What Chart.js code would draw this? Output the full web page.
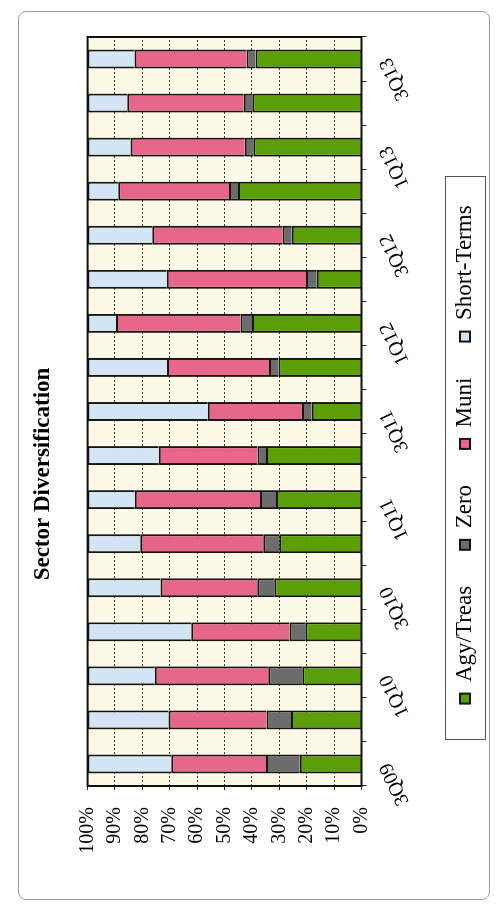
<!DOCTYPE html>
<html>
<head>
<meta charset="utf-8">
<script src="https://cdn.jsdelivr.net/npm/chart.js@4.4.1/dist/chart.umd.min.js"></script>
<style>
  html, body { margin: 0; padding: 0; background: #ffffff; }
  body { width: 500px; height: 911px; position: relative; overflow: hidden; }
  #frame {
    position: absolute; left: 18px; top: 11px; width: 472px; height: 889px;
    border: 1px solid #9c9c9c; border-radius: 8px; box-sizing: border-box;
  }
  /* the chart is laid out landscape and turned a quarter turn to stand upright */
  #wrap {
    position: absolute; left: 0; top: 0; width: 911px; height: 500px;
    transform-origin: 0 0; transform: translate(0, 911px) rotate(-90deg);
  }
  canvas { display: block; }
</style>
</head>
<body>
<div id="frame"></div>
<div id="wrap"><canvas id="chart" width="911" height="500"></canvas></div>
<script>
// quarters shown on the category axis
const quarters = ['3Q09','4Q09','1Q10','2Q10','3Q10','4Q10','1Q11','2Q11','3Q11',
                  '4Q11','1Q12','2Q12','3Q12','4Q12','1Q13','2Q13','3Q13'];
// only every other quarter carries a label
const tickLabels = ['3Q09','1Q10','3Q10','1Q11','3Q11','1Q12','3Q12','1Q13','3Q13'];

// portfolio share by sector, percent of total
const agyTreas   = [22.5, 25.7, 21.6, 20.5, 31.9, 30.0, 31.2, 34.9, 18.2, 30.3, 40.0, 16.3, 25.5, 45.1, 39.5, 39.9, 38.7];
const zero       = [12.4,  9.0, 12.4,  5.8,  6.2,  5.9,  5.9,  3.1,  3.5,  3.5,  4.2,  4.0,  3.3,  3.3,  3.1,  3.1,  3.3];
const muni       = [34.6, 35.8, 41.5, 35.9, 35.3, 44.9, 45.7, 36.0, 34.4, 37.2, 45.4, 50.8, 47.6, 40.4, 41.7, 42.5, 40.9];
const shortTerms = [30.5, 29.5, 24.5, 37.8, 26.6, 19.2, 17.2, 26.0, 43.9, 29.0, 10.4, 28.9, 23.6, 11.2, 15.7, 14.5, 17.1];

const serif = "'Liberation Serif', 'Times New Roman', serif";

// cream plot background and black frame round the plot
const plotArea = {
  id: 'plotArea',
  beforeDatasetsDraw(chart) {
    const { ctx, chartArea: a } = chart;
    ctx.save();
    ctx.globalCompositeOperation = 'destination-over';
    ctx.fillStyle = '#fcf9e7';
    ctx.fillRect(a.left, a.top, a.width, a.height);
    ctx.restore();
  },
  afterDatasetsDraw(chart) {
    const { ctx, chartArea: a } = chart;
    ctx.save();
    ctx.strokeStyle = '#111';
    ctx.lineWidth = 2;
    ctx.strokeRect(a.left, a.top, a.width, a.height);
    ctx.restore();
  }
};

// legend sits a little right of centre and is enclosed in a thin box
const legendFrame = {
  id: 'legendFrame',
  afterLayout(chart) {
    const lg = chart.legend;
    lg.left += 19.5;
    lg.right += 19.5;
  },
  afterDraw(chart) {
    const lg = chart.legend;
    if (!lg || !lg.lineWidths) return;
    const pad = lg.options.labels.padding;
    const rowW = lg.lineWidths[0];
    const start = (lg.left + pad + lg.right - rowW) / 2;
    const end = start + rowW - pad;
    const hb = lg.legendHitBoxes[0];
    const cy = hb.top + hb.height / 2;
    const x1 = start - 36, x2 = end + 29;
    const { ctx } = chart;
    ctx.save();
    ctx.strokeStyle = '#555';
    ctx.lineWidth = 1;
    ctx.strokeRect(Math.round(x1) + 0.5, Math.round(cy - 20) + 0.5, Math.round(x2 - x1), 40);
    ctx.restore();
  }
};

const barStyle = { borderColor: '#141414', borderWidth: 2, barPercentage: 0.43, categoryPercentage: 1 };

new Chart(document.getElementById('chart'), {
  type: 'bar',
  data: {
    labels: quarters,
    datasets: [
      { label: 'Agy/Treas',   data: agyTreas,   backgroundColor: '#5c9e08', ...barStyle },
      { label: 'Zero',        data: zero,       backgroundColor: '#6c6c6c', ...barStyle },
      { label: 'Muni',        data: muni,       backgroundColor: '#e6678a', ...barStyle },
      { label: 'Short-Terms', data: shortTerms, backgroundColor: '#d3e5f5', ...barStyle }
    ]
  },
  options: {
    responsive: false,
    animation: false,
    devicePixelRatio: 1,
    layout: { padding: { left: 0, right: 37, top: 0, bottom: 13.5 } },
    plugins: {
      title: {
        display: true,
        text: 'Sector Diversification',
        color: '#000',
        font: { family: serif, size: 23, weight: 'bold' },
        padding: { top: 29, bottom: 31 }
      },
      legend: {
        position: 'bottom',
        labels: {
          color: '#000',
          font: { family: serif, size: 23 },
          boxWidth: 10,
          boxHeight: 10,
          padding: 36
        }
      },
      tooltip: { enabled: false }
    },
    scales: {
      x: {
        stacked: true,
        grid: { display: true, drawOnChartArea: false, offset: true, tickLength: 5, tickColor: '#222', tickWidth: 1 },
        border: { display: false },
        ticks: {
          autoSkip: false,
          minRotation: 25,
          maxRotation: 25,
          padding: 8,
          color: '#000',
          font: { family: serif, size: 20 },
          callback(value, index) {
            const q = quarters[index];
            return tickLabels.includes(q) ? q : '';
          }
        },
        afterFit(scale) { scale.height = 56; }
      },
      y: {
        stacked: true,
        min: 0,
        max: 100,
        grid: { color: '#3a3a3a', lineWidth: 1, tickLength: 4, tickColor: '#222', tickWidth: 1 },
        border: { display: false, dash: [2, 2] },
        ticks: {
          stepSize: 10,
          padding: 17,
          color: '#000',
          font: { family: serif, size: 20 },
          callback: (v) => v + '%'
        },
        afterFit(scale) { scale.width = 125; }
      }
    }
  },
  plugins: [plotArea, legendFrame]
});
</script>
</body>
</html>
